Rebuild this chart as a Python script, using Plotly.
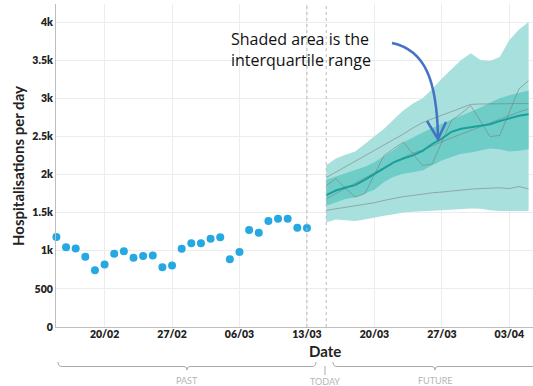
import pandas as pd
import plotly.graph_objects as go

# ---------------- data ----------------
past_dates = pd.date_range("2021-02-15", "2021-03-13", freq="D")
past_values = [1180, 1045, 1030, 920, 745, 820, 960, 995, 908, 930, 938, 785, 808,
               1025, 1097, 1097, 1158, 1176, 887, 983, 1272, 1237, 1391, 1421, 1421,
               1303, 1299]

fc_dates = pd.date_range("2021-03-15", "2021-04-05", freq="D")
outer_upper = [2120, 2210, 2260, 2300, 2400, 2500, 2600, 2720, 2840, 2930, 3000, 3120,
               3260, 3380, 3500, 3590, 3500, 3490, 3540, 3760, 3900, 4000]
outer_lower = [1375, 1410, 1400, 1390, 1410, 1440, 1460, 1480, 1500, 1510, 1520, 1525,
               1530, 1540, 1550, 1555, 1550, 1530, 1520, 1520, 1520, 1520]
iqr_upper = [1930, 1970, 2010, 2050, 2100, 2160, 2240, 2320, 2420, 2490, 2550, 2610,
             2670, 2720, 2770, 2820, 2880, 2940, 3000, 3040, 3070, 3100]
iqr_lower = [1590, 1640, 1680, 1703, 1750, 1800, 1900, 1970, 2010, 2030, 2053, 2120,
             2184, 2230, 2272, 2290, 2315, 2340, 2330, 2300, 2310, 2330]
median = [1730, 1790, 1830, 1860, 1930, 2010, 2090, 2160, 2210, 2250, 2310, 2400,
          2470, 2560, 2600, 2620, 2640, 2660, 2700, 2740, 2770, 2790]
model_a = [1530, 1550, 1570, 1590, 1610, 1630, 1660, 1690, 1710, 1725, 1745, 1760,
           1770, 1785, 1800, 1808, 1815, 1820, 1826, 1815, 1843, 1810]
model_b = [1856, 1944, 1820, 1703, 1747, 2000, 2249, 2340, 2424, 2270, 2118, 2140,
           2420, 2708, 2800, 2904, 2700, 2498, 2511, 2820, 3122, 3232]
model_c = [1960, 2030, 2100, 2170, 2240, 2310, 2380, 2450, 2530, 2610, 2680, 2730,
           2780, 2830, 2880, 2920, 2925, 2928, 2930, 2930, 2930, 2930]
model_d = [1680, 1750, 1820, 1890, 1960, 2020, 2090, 2160, 2220, 2280, 2320, 2380,
           2430, 2480, 2530, 2580, 2630, 2680, 2720, 2770, 2820, 2860]

x_ticks = pd.date_range("2021-02-20", "2021-04-03", freq="7D")
x_ticklabels = [d.strftime("%d/%m") for d in x_ticks]
y_ticks = [0, 500, 1000, 1500, 2000, 2500, 3000, 3500, 4000]
y_ticklabels = ["0", "500", "1k", "1.5k", "2k", "2.5k", "3k", "3.5k", "4k"]

last_obs = "2021-03-13"
today = "2021-03-15"

# ---------------- layout constants ----------------
W, H = 533, 386
L, R, T, B = 56, 0, 4, 59
PW, PH = W - L - R, H - T - B


def px(x):
    return (x - L) / PW


def py(y):
    return (H - B - y) / PH


FONT = "Lato"
LIGHT = "rgb(168,224,221)"
DARK = "rgb(111,205,200)"
MED = "rgb(24,160,154)"
GREY = "rgba(120,120,120,0.55)"

fig = go.Figure()

fig.add_trace(go.Scatter(x=fc_dates, y=outer_lower, mode="lines",
                         line=dict(width=0), hoverinfo="skip"))
fig.add_trace(go.Scatter(x=fc_dates, y=outer_upper, mode="lines", fill="tonexty",
                         fillcolor=LIGHT, line=dict(width=0), hoverinfo="skip"))
fig.add_trace(go.Scatter(x=fc_dates, y=iqr_lower, mode="lines",
                         line=dict(width=0), hoverinfo="skip"))
fig.add_trace(go.Scatter(x=fc_dates, y=iqr_upper, mode="lines", fill="tonexty",
                         fillcolor=DARK, line=dict(width=0), hoverinfo="skip"))
for m in (model_a, model_b, model_c, model_d):
    fig.add_trace(go.Scatter(x=fc_dates, y=m, mode="lines",
                             line=dict(color=GREY, width=1)))
fig.add_trace(go.Scatter(x=fc_dates, y=median, mode="lines",
                         line=dict(color=MED, width=2)))
fig.add_trace(go.Scatter(x=past_dates, y=past_values, mode="markers",
                         marker=dict(color="rgb(38,168,226)", size=8),
                         cliponaxis=False))

# vertical dotted markers
for d in (last_obs, today):
    fig.add_shape(type="line", x0=d, x1=d, xref="x", yref="paper", y0=0, y1=1,
                  line=dict(color="rgb(185,185,185)", width=1, dash="dot"))

shapes = []
# curved arrow
shapes.append(dict(type="path", xref="paper", yref="paper",
                   path=(f"M {px(392)} {py(43)} "
                         f"C {px(425)} {py(50)}, {px(437)} {py(80)}, {px(438)} {py(138)}"),
                   line=dict(color="rgb(68,114,196)", width=2.5)))
shapes.append(dict(type="path", xref="paper", yref="paper",
                   path=(f"M {px(427)} {py(121)} L {px(438)} {py(139)} "
                         f"L {px(446)} {py(122)}"),
                   line=dict(color="rgb(68,114,196)", width=2.5)))

# bottom brackets
BR = "rgb(170,170,170)"


def bracket(x0, x1, xm):
    return dict(type="path", xref="paper", yref="paper",
                path=(f"M {px(x0)} {py(362)} Q {px(x0)} {py(366.5)} {px(x0+4)} {py(366.5)} "
                      f"L {px(xm-3)} {py(366.5)} Q {px(xm)} {py(366.5)} {px(xm)} {py(370)} "
                      f"Q {px(xm)} {py(366.5)} {px(xm+3)} {py(366.5)} "
                      f"L {px(x1-4)} {py(366.5)} Q {px(x1)} {py(366.5)} {px(x1)} {py(362)}"),
                line=dict(color=BR, width=1))


shapes.append(bracket(58, 316, 187))
shapes.append(bracket(333, 540, 435))
shapes.append(dict(type="line", xref="paper", yref="paper",
                   x0=px(325), x1=px(325), y0=py(366), y1=py(375),
                   line=dict(color=BR, width=1)))
for s in shapes:
    fig.add_shape(**s)

ann = [
    dict(text="Shaded area is the<br>interquartile range", x=px(229), y=py(49),
         xanchor="left", yanchor="middle", align="left", showarrow=False,
         font=dict(family="Open Sans", size=16, color="#111")),
    dict(text="<b>Date</b>", x=px(325), y=py(351), xanchor="center", yanchor="middle",
         showarrow=False, font=dict(family=FONT, size=15, color="#222")),
    dict(text="<b>Hospitalisations per day</b>", x=px(18), y=py(166), textangle=-90,
         xanchor="center", yanchor="middle", showarrow=False,
         font=dict(family=FONT, size=15, color="#222")),
    dict(text="PAST", x=px(187), y=py(380), xanchor="center", yanchor="middle",
         showarrow=False, font=dict(family=FONT, size=9, color="#b5b5b5")),
    dict(text="TODAY", x=px(325), y=py(381), xanchor="center", yanchor="middle",
         showarrow=False, font=dict(family=FONT, size=9, color="#b5b5b5")),
    dict(text="FUTURE", x=px(435), y=py(380), xanchor="center", yanchor="middle",
         showarrow=False, font=dict(family=FONT, size=9, color="#b5b5b5")),
]
for a in ann:
    a.setdefault("xref", "paper")
    a.setdefault("yref", "paper")
    fig.add_annotation(**a)

fig.update_layout(
    width=W, height=H, margin=dict(l=L, r=R, t=T, b=B),
    paper_bgcolor="white", plot_bgcolor="white", showlegend=False,
    xaxis=dict(range=["2021-02-14 23:00", "2021-04-05 11:00"], tickvals=x_ticks,
               ticktext=x_ticklabels, showgrid=True, gridcolor="rgb(236,236,236)",
               showline=True, linecolor="rgb(190,190,190)", ticks="", zeroline=False,
               ticklabelstandoff=-3,
               tickfont=dict(family=FONT, size=10.5, color="#222", weight=800)),
    yaxis=dict(range=[0, 4236], tickvals=y_ticks, ticktext=y_ticklabels,
               showgrid=True, gridcolor="rgb(236,236,236)", showline=True,
               linecolor="rgb(190,190,190)", ticks="", zeroline=False,
               tickfont=dict(family=FONT, size=10.5, color="#222", weight=800)),
)

fig.write_html("out.html")
